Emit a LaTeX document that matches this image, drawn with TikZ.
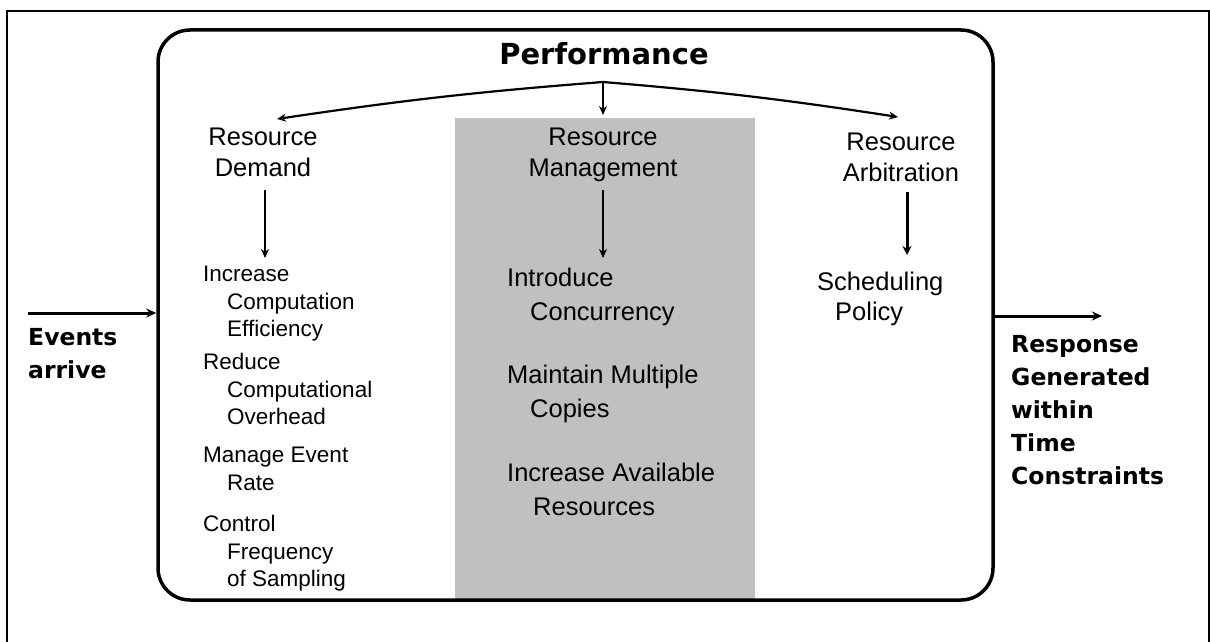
\documentclass[tikz,border=0pt]{standalone}
\usepackage{fontspec}
\setmainfont{Liberation Sans}
\newfontfamily\headfont{DejaVu Sans}
\usetikzlibrary{arrows.meta}
\definecolor{panelgray}{HTML}{C0C0C0}
\begin{document}
\begin{tikzpicture}[x=1pt,y=-1pt,
  outerframe/.style={draw, line width=1.7pt},
  perfbox/.style={draw, line width=3.5pt, rounded corners=32pt, inner sep=0pt},
  conn/.style={line width=2.2pt, -{Stealth[length=9pt,width=8pt]}},
  thickconn/.style={line width=3pt, -{Stealth[length=9pt,width=9pt]}},
  ioarrow/.style={line width=3pt, -{Stealth[length=10pt,width=9pt]}},
  head/.style={inner sep=0pt, align=center, anchor=north, font=\fontsize{25.5}{31}\selectfont},
  itemL/.style={inner sep=0pt, align=left, anchor=north west, font=\fontsize{22.5}{27.5}\selectfont},
  itemM/.style={inner sep=0pt, align=left, anchor=north west, font=\fontsize{25.5}{34}\selectfont},
  itemR/.style={inner sep=0pt, align=left, anchor=north west, font=\fontsize{25.5}{30}\selectfont},
  iolabel/.style={inner sep=0pt, align=left, anchor=north west, font=\headfont\bfseries\fontsize{23.5}{33}\selectfont}
]
\useasboundingbox (0,0) rectangle (1210,642);

% outer frame (open at the bottom edge of the page)
\draw[outerframe] (7,700) -- (7,11) -- (1209,11) -- (1209,700);

% shaded management column
\node[fill=panelgray, inner sep=0pt, minimum width=300pt, minimum height=482pt, anchor=north west] (mgmtbg) at (455,118) {};

% main rounded box
\node[perfbox, minimum width=835pt, minimum height=570pt] (perf) at (575.5,315) {};

% title
\node[inner sep=0pt, anchor=base, font=\headfont\bfseries\fontsize{29}{34}\selectfont] (title) at (604,65) {Performance};

% column headers
\node[head] (dem)  at (263,128) {Resource\\Demand};
\node[head] (mgmt) at (603,128) {Resource\\Management};
\node[head] (arb)  at (901,133) {Resource\\Arbitration};

% resource demand tactics
\node[itemL] (inc) at (203,266) {Increase\\\hspace*{24pt}Computation\\\hspace*{24pt}Efficiency};
\node[itemL] (red) at (203,353) {Reduce\\\hspace*{24pt}Computational\\\hspace*{24pt}Overhead};
\node[itemL] (man) at (203,447) {Manage Event\\\hspace*{24pt}Rate};
\node[itemL] (ctl) at (203,515) {Control\\\hspace*{24pt}Frequency\\\hspace*{24pt}of Sampling};

% resource management tactics
\node[itemM] (intro) at (507,268) {Introduce\\\hspace*{23pt}Concurrency};
\node[itemM] (copies) at (507,365) {Maintain Multiple\\\hspace*{23pt}Copies};
\node[itemM] (avail) at (507,463) {Increase Available\\\hspace*{26pt}Resources};

% resource arbitration tactics
\node[itemR] (sched) at (817,272) {Scheduling\\\hspace*{18pt}Policy};

% input and output labels
\node[iolabel] (events) at (28,328) {Events\\arrive};
\node[iolabel] (resp) at (1011,335) {Response\\Generated\\within\\Time\\Constraints};

% fork from the title to the three headers
\coordinate (fork) at (603,82);
\draw[conn] (fork) to[bend right=2] ([shift={(14,-9)}]dem.north);
\draw[conn] (fork) -- ([shift={(0,-13)}]mgmt.north);
\draw[conn] (fork) to[bend left=2] ([shift={(-3,-16)}]arb.north);

% header to tactic arrows
\draw[conn] ([shift={(2,13)}]dem.south) -- ([shift={(2,-8)}]dem.south |- inc.north);
\draw[conn] ([shift={(0,8)}]mgmt.south) -- ([shift={(0,-10)}]mgmt.south |- intro.north);
\draw[thickconn] ([shift={(6,10)}]arb.south) -- ([shift={(6,-17)}]arb.south |- sched.north);

% events in, response out
\coordinate (evsrc) at (28,313);
\coordinate (rspdst) at (1102,316);
\draw[ioarrow] (evsrc) -- (evsrc -| perf.west);
\draw[ioarrow] (rspdst -| perf.east) -- (rspdst);
\end{tikzpicture}
\end{document}
